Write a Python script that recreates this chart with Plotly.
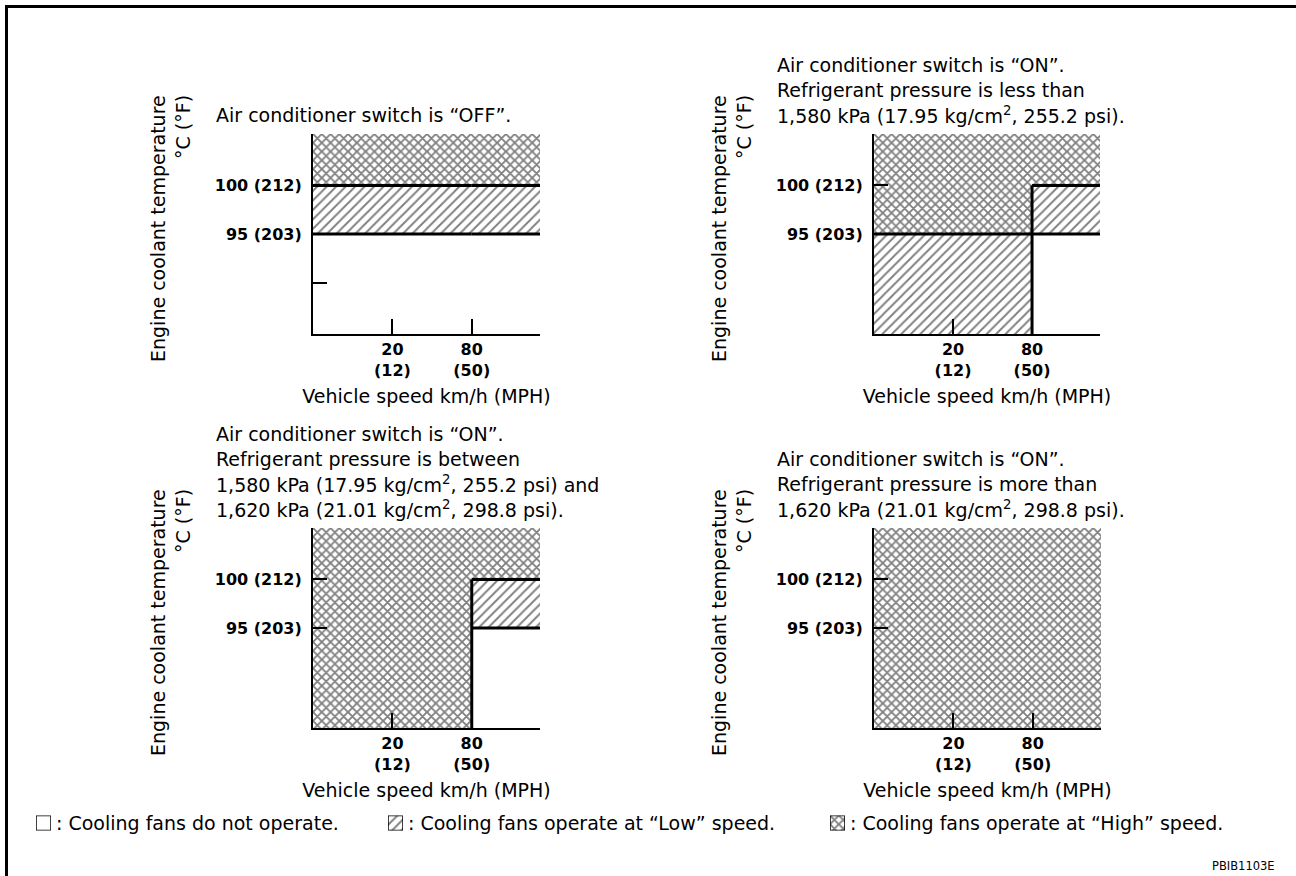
import plotly.graph_objects as go

# ---- chart data ----
# temperature thresholds (deg C) and their deg F labels
temp_c = [95, 100]
temp_f = [203, 212]
# unlabelled tick on the first chart
minor_temp_c = [90]

# speed thresholds (km/h) and their MPH labels
speed_kmh = [20, 80]
speed_mph = [12, 50]
# the fan behaviour changes at this speed
switch_speed_kmh = 80

# fan mode per speed band (below / above 80 km/h),
# listed per temperature band (below 95, 95-100, above 100)
fan_off = [["none", "low", "high"], ["none", "low", "high"]]
fan_on_less = [["low", "high", "high"], ["none", "low", "high"]]
fan_on_between = [["high", "high", "high"], ["none", "low", "high"]]
fan_on_more = [["high", "high", "high"], ["high", "high", "high"]]
panel_modes = [fan_off, fan_on_less, fan_on_between, fan_on_more]

panel_titles = [
    ["Air conditioner switch is “OFF”."],
    ["Air conditioner switch is “ON”.",
     "Refrigerant pressure is less than",
     "1,580 kPa (17.95 kg/cm<sup>2</sup>, 255.2 psi)."],
    ["Air conditioner switch is “ON”.",
     "Refrigerant pressure is between",
     "1,580 kPa (17.95 kg/cm<sup>2</sup>, 255.2 psi) and",
     "1,620 kPa (21.01 kg/cm<sup>2</sup>, 298.8 psi)."],
    ["Air conditioner switch is “ON”.",
     "Refrigerant pressure is more than",
     "1,620 kPa (21.01 kg/cm<sup>2</sup>, 298.8 psi)."],
]

legend_modes = ["none", "low", "high"]
legend_texts = [": Cooling fans do not operate.",
                ": Cooling fans operate at “Low” speed.",
                ": Cooling fans operate at “High” speed."]

# ---- page layout (pixels) ----
W, H = 1296, 876
FONT = "DejaVu Sans"
# plot boxes: left, right, top, bottom
boxes = [(313, 540, 134, 334), (874, 1100, 134, 334),
         (313, 540, 528, 728), (874, 1101, 528, 728)]
Y_RANGE = [84.7, 105.3]
X_RANGE = [0, 2.86]          # schematic speed axis, ticks at 1, 2
legend_box_x = [36, 388, 830]
legend_y = 823

def px(x):
    return x / W

def py(y):
    return 1 - y / H

def speed_pos(v):
    return speed_kmh.index(v) + 1

patterns = {
    "none": None,
    "low": dict(shape="/", fgcolor="black", bgcolor="white", size=6.7, solidity=0.28),
    "high": dict(shape="x", fgcolor="black", bgcolor="white", size=6.2, solidity=0.5),
}

x_edges = [X_RANGE[0], speed_pos(switch_speed_kmh), X_RANGE[1]]
y_edges = [Y_RANGE[0]] + temp_c + [Y_RANGE[1]]

fig = go.Figure()


def rect_trace(x0, x1, y0, y1, mode, xa, ya, outline=0):
    return go.Scatter(x=[x0, x1, x1, x0, x0], y=[y0, y0, y1, y1, y0],
                      mode="lines", fill="toself", fillcolor="white",
                      fillpattern=patterns[mode],
                      line=dict(color="black", width=outline if outline else 0.01),
                      xaxis=xa, yaxis=ya, hoverinfo="skip", showlegend=False)


for i, modes in enumerate(panel_modes):
    xa, ya = "x%d" % (i + 1), "y%d" % (i + 1)

    # merge same-mode cells vertically inside each speed band
    cols = []
    for c, col in enumerate(modes):
        runs = []
        for r, m in enumerate(col):
            if runs and runs[-1][2] == m:
                runs[-1][1] = y_edges[r + 1]
            else:
                runs.append([y_edges[r], y_edges[r + 1], m])
        cols.append(runs)
    # merge identical speed bands
    rects = []
    if cols[0] == cols[1]:
        for y0, y1, m in cols[0]:
            rects.append((x_edges[0], x_edges[2], y0, y1, m))
    else:
        for c, runs in enumerate(cols):
            for y0, y1, m in runs:
                rects.append((x_edges[c], x_edges[c + 1], y0, y1, m))
    for x0, x1, y0, y1, m in rects:
        if m != "none":
            fig.add_trace(rect_trace(x0, x1, y0, y1, m, xa, ya))

    # boundary lines where the fan mode changes
    segs = []
    for c, col in enumerate(modes):
        for r in range(len(col) - 1):
            if col[r] != col[r + 1]:
                segs.append(((x_edges[c], x_edges[c + 1]), (y_edges[r + 1], y_edges[r + 1])))
    for r in range(len(modes[0])):
        if modes[0][r] != modes[1][r]:
            segs.append(((x_edges[1], x_edges[1]), (y_edges[r], y_edges[r + 1])))
    lx, ly = [], []
    for (xs, ys) in segs:
        lx += [xs[0], xs[1], None]
        ly += [ys[0], ys[1], None]
    if lx:
        fig.add_trace(go.Scatter(x=lx, y=ly, mode="lines",
                                 line=dict(color="black", width=3),
                                 xaxis=xa, yaxis=ya, hoverinfo="skip",
                                 showlegend=False))

    # axes
    l, r, t, b = boxes[i]
    yt = list(temp_c)
    ytxt = ["%d (%d)" % (c, f) for c, f in zip(temp_c, temp_f)]
    if i == 0:
        yt = minor_temp_c + yt
        ytxt = [" "] + ytxt
    axis_common = dict(showline=True, linewidth=2, linecolor="black",
                       showgrid=False, zeroline=False, ticks="inside",
                       tickwidth=1.5, tickcolor="black", fixedrange=True,
                       tickfont=dict(family=FONT, size=16, color="black", weight="bold"))
    fig.layout["xaxis%d" % (i + 1)] = dict(
        axis_common, domain=[px(l), px(r)], range=X_RANGE, anchor=ya,
        tickmode="array", tickvals=[speed_pos(v) for v in speed_kmh],
        ticktext=["%d<br>(%d)" % (k, m) for k, m in zip(speed_kmh, speed_mph)],
        ticklen=15, ticklabelstandoff=0,
        title=dict(text="Vehicle speed km/h (MPH)", standoff=11,
                   font=dict(family=FONT, size=19, color="black")))
    fig.layout["yaxis%d" % (i + 1)] = dict(
        axis_common, domain=[py(b), py(t)], range=Y_RANGE, anchor=xa,
        tickmode="array", tickvals=yt, ticktext=ytxt, ticklen=14,
        ticklabelstandoff=6)

    # condition text above each chart
    last = t - 19
    n = len(panel_titles[i])
    for k, line in enumerate(panel_titles[i]):
        fig.add_annotation(x=px(l - 99), y=py(last - (n - 1 - k) * 25),
                           xref="paper", yref="paper", xanchor="left",
                           yanchor="middle", showarrow=False, text=line,
                           font=dict(family=FONT, size=19, color="black"))

    # y axis title, two rotated lines
    fig.add_annotation(x=px(l - 155), y=py((t + b) / 2 - 5), xref="paper",
                       yref="paper", xanchor="center", yanchor="middle",
                       textangle=-90, showarrow=False,
                       text="Engine coolant temperature",
                       font=dict(family=FONT, size=19, color="black"))
    fig.add_annotation(x=px(l - 130), y=py(t - 41), xref="paper", yref="paper",
                       xanchor="center", yanchor="top", textangle=-90,
                       showarrow=False, text="°C (°F)",
                       font=dict(family=FONT, size=19, color="black"))

# ---- key boxes along the bottom ----
for j, (mode, txt) in enumerate(zip(legend_modes, legend_texts)):
    n = 5 + j
    xa, ya = "x%d" % n, "y%d" % n
    bx = legend_box_x[j]
    fig.add_trace(rect_trace(0, 1, 0, 1, mode, xa, ya, outline=1.5))
    fig.layout["xaxis%d" % n] = dict(domain=[px(bx), px(bx + 15)], range=[0, 1],
                                     visible=False, anchor=ya, fixedrange=True)
    fig.layout["yaxis%d" % n] = dict(domain=[py(legend_y + 7.5), py(legend_y - 7.5)],
                                     range=[0, 1], visible=False, anchor=xa,
                                     fixedrange=True)
    fig.add_annotation(x=px(bx + 18), y=py(legend_y), xref="paper", yref="paper",
                       xanchor="left", yanchor="middle", showarrow=False, text=txt,
                       font=dict(family=FONT, size=19, color="black"))

fig.add_annotation(x=px(1277), y=py(866), xref="paper", yref="paper",
                   xanchor="right", yanchor="middle", showarrow=False,
                   text="PBIB1103E", font=dict(family=FONT, size=11.5, color="black"))

# page frame (top and left edge)
fig.add_shape(type="line", xref="paper", yref="paper", x0=px(5), x1=1,
              y0=py(6.5), y1=py(6.5), line=dict(color="black", width=3))
fig.add_shape(type="line", xref="paper", yref="paper", x0=px(6.5), x1=px(6.5),
              y0=py(5), y1=0, line=dict(color="black", width=3))

fig.update_layout(width=W, height=H, margin=dict(l=0, r=0, t=0, b=0),
                  paper_bgcolor="white", plot_bgcolor="white",
                  showlegend=False, font=dict(family=FONT, color="black"))

fig.write_html("out.html", config={"displayModeBar": False},
               post_script="document.body.style.margin='0';"
                           "document.body.style.overflow='hidden';")
